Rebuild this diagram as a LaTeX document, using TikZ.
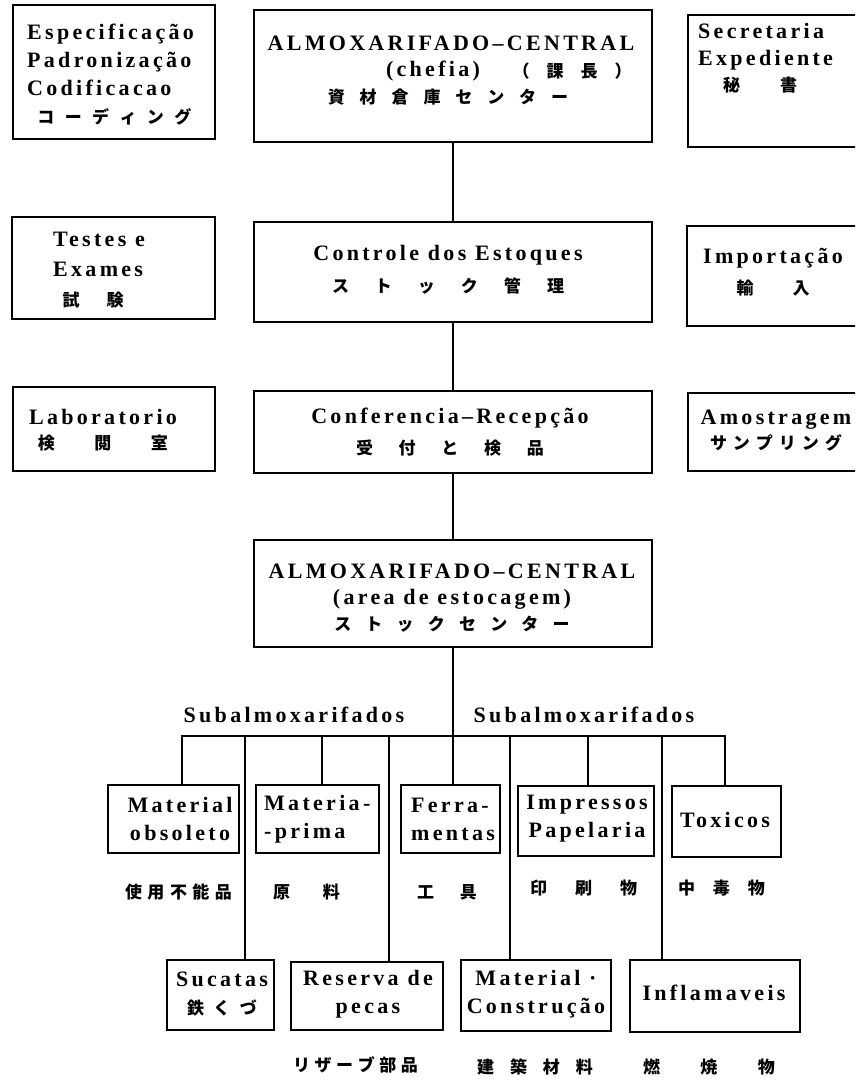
\documentclass[tikz,border=0pt]{standalone}
\usepackage{fontspec}
\newfontfamily\lat{Liberation Serif}[LetterSpace=15]
\newfontfamily\jpf{Noto Sans CJK JP}
\makeatletter
\newcommand\sj[2]{\@tfor\sj@c:=#2\do{\hspace*{\dimexpr#1/2\relax}\sj@c\hspace*{\dimexpr#1/2\relax}}}
\makeatother
\newcommand\J[2]{{\jpf\bfseries\fontsize{17}{28}\selectfont\sj{#1}{#2}}}
\begin{document}
\begin{tikzpicture}[x=1pt,y=-1pt,
  box/.style={draw, line width=1.6pt, inner sep=0pt},
  txt/.style={inner sep=0pt, align=center, font={\lat\bfseries\fontsize{22}{28}\selectfont}},
  ln/.style={line width=1.6pt}]
\useasboundingbox (0,0) rectangle (855,1080);
\clip (0,0) rectangle (855,1080);
% ---- boxes
\node[box, minimum width=202pt, minimum height=134pt] (espec) at (114,72) {};
\node[box, minimum width=398pt, minimum height=132pt] (almoxc) at (453,76) {};
\node[box, minimum width=192pt, minimum height=132pt] (secr) at (784,81) {};
\node[box, minimum width=203pt, minimum height=102pt] (testes) at (113.5,268) {};
\node[box, minimum width=398pt, minimum height=100pt] (controle) at (453,272) {};
\node[box, minimum width=193pt, minimum height=100pt] (import) at (783.5,276) {};
\node[box, minimum width=202pt, minimum height=84pt] (lab) at (114,429) {};
\node[box, minimum width=398pt, minimum height=82pt] (confer) at (453,432) {};
\node[box, minimum width=192pt, minimum height=78pt] (amost) at (784,432) {};
\node[box, minimum width=398pt, minimum height=107pt] (storage) at (453,593.5) {};
\node[box, minimum width=131pt, minimum height=68pt] (matobs) at (173.5,819) {};
\node[box, minimum width=123pt, minimum height=68pt] (matprima) at (317.5,819) {};
\node[box, minimum width=99pt, minimum height=68pt] (ferram) at (450.5,819) {};
\node[box, minimum width=136pt, minimum height=70pt] (impress) at (586,821) {};
\node[box, minimum width=109pt, minimum height=71pt] (toxicos) at (726.5,821.5) {};
\node[box, minimum width=107pt, minimum height=70pt] (sucatas) at (220.5,995) {};
\node[box, minimum width=152pt, minimum height=68pt] (reserva) at (367,996) {};
\node[box, minimum width=150pt, minimum height=71pt] (matcons) at (536,995.5) {};
\node[box, minimum width=170pt, minimum height=72pt] (inflam) at (715,996) {};
% ---- texts in boxes
\node[txt, align=left, anchor=west] (espec-t) at (27,74.5) {Especificação\\Padronização\\Codificacao\\\hspace*{5pt}\J{10.4pt}{コーディング}};
\node[txt] (almoxc-t1) at (451,43) {ALMOXARIFADO–CENTRAL};
\node[txt] (almoxc-t2) at (433,71) {(chefia)};
\node[txt] (almoxc-t3) at (572,71) {\J{17pt}{（課長）}};
\node[txt] (almoxc-t4) at (448,97) {\J{14.9pt}{資材倉庫センター}};
\node[txt, align=left, anchor=west, font={\lat\bfseries\fontsize{22}{26.5}\selectfont}] (secr-t) at (698,58.5) {Secretaria\\Expediente\\\hspace*{5pt}\J{40pt}{秘書}};
\node[txt, align=left, anchor=west, font={\lat\bfseries\fontsize{22}{30}\selectfont}] (testes-t) at (53,270) {Testes e\\Exames\\\hspace*{-4pt}\J{27pt}{試験}};
\node[txt, font={\lat\bfseries\fontsize{22}{32}\selectfont}] (controle-t) at (448,270) {Controle dos Estoques\\\J{26pt}{ストック管理}};
\node[txt, font={\lat\bfseries\fontsize{22}{31}\selectfont}] (import-t) at (773,272.5) {Importação\\\J{39pt}{輸入}};
\node[txt, font={\lat\bfseries\fontsize{22}{25}\selectfont}] (lab-t) at (103,430.5) {Laboratorio\\\J{39.5pt}{検閲室}};
\node[txt, font={\lat\bfseries\fontsize{22}{31}\selectfont}] (confer-t) at (450,432.5) {Conferencia–Recepção\\\J{25.75pt}{受付と検品}};
\node[txt, font={\lat\bfseries\fontsize{22}{25}\selectfont}] (amost-t) at (776,430.5) {Amostragem\\\J{6pt}{サンプリング}};
\node[txt, font={\lat\bfseries\fontsize{22}{26}\selectfont}] (storage-t) at (452,598) {ALMOXARIFADO–CENTRAL\\(area de estocagem)\\\J{14.2pt}{ストックセンター}};
\node[txt] (sub1) at (294,715) {Subalmoxarifados};
\node[txt] (sub2) at (584,715) {Subalmoxarifados};
\node[txt] (matobs-t) at (180,819) {Material\\obsoleto};
\node[txt, align=left, anchor=west] (matprima-t) at (264,819) {Materia-\\-prima};
\node[txt, align=left, anchor=west] (ferram-t) at (411,819) {Ferra-\\mentas};
\node[txt] (impress-t) at (587,819) {Impressos\\Papelaria};
\node[txt] (toxicos-t) at (725,820) {Toxicos};
\node[txt] (sucatas-t) at (222,994) {Sucatas\\\J{9.5pt}{鉄くづ}};
\node[txt] (reserva-t) at (368,994) {Reserva de\\pecas};
\node[txt] (matcons-t) at (536,994) {Material ·\\Construção};
\node[txt] (inflam-t) at (714,993) {Inflamaveis};
% ---- labels under boxes
\node[txt] (jl1) at (178.5,892) {\J{5.5pt}{使用不能品}};
\node[txt] (jl2) at (306.5,892) {\J{33pt}{原料}};
\node[txt] (jl3) at (447,892) {\J{26pt}{工具}};
\node[txt] (jl4) at (583.5,888) {\J{28pt}{印刷物}};
\node[txt] (jl5) at (721.5,888) {\J{18pt}{中毒物}};
\node[txt] (jl6) at (355.5,1065) {\J{4.6pt}{リザーブ部品}};
\node[txt] (jl7) at (535,1067) {\J{16pt}{建築材料}};
\node[txt] (jl8) at (709,1067) {\J{40.5pt}{燃焼物}};
% ---- connectors
\coordinate (bar) at (451,736);
\draw[ln] (almoxc.south) -- (controle.north);
\draw[ln] (controle.south) -- (confer.north);
\draw[ln] (confer.south) -- (storage.north);
\draw[ln] (storage.south) -- (storage.south |- ferram.north);
\draw[ln] ([xshift=8.5pt]matobs.north) |- (bar);
\draw[ln] ([xshift=24.5pt]sucatas.north) |- (bar);
\draw[ln] ([xshift=4.5pt]matprima.north) |- (bar);
\draw[ln] ([xshift=22pt]reserva.north) |- (bar);
\draw[ln] ([xshift=-26pt]matcons.north) |- (bar);
\draw[ln] ([xshift=2pt]impress.north) |- (bar);
\draw[ln] ([xshift=-53pt]inflam.north) |- (bar);
\draw[ln] ([xshift=-1.5pt]toxicos.north) |- (bar);
\end{tikzpicture}
\end{document}
